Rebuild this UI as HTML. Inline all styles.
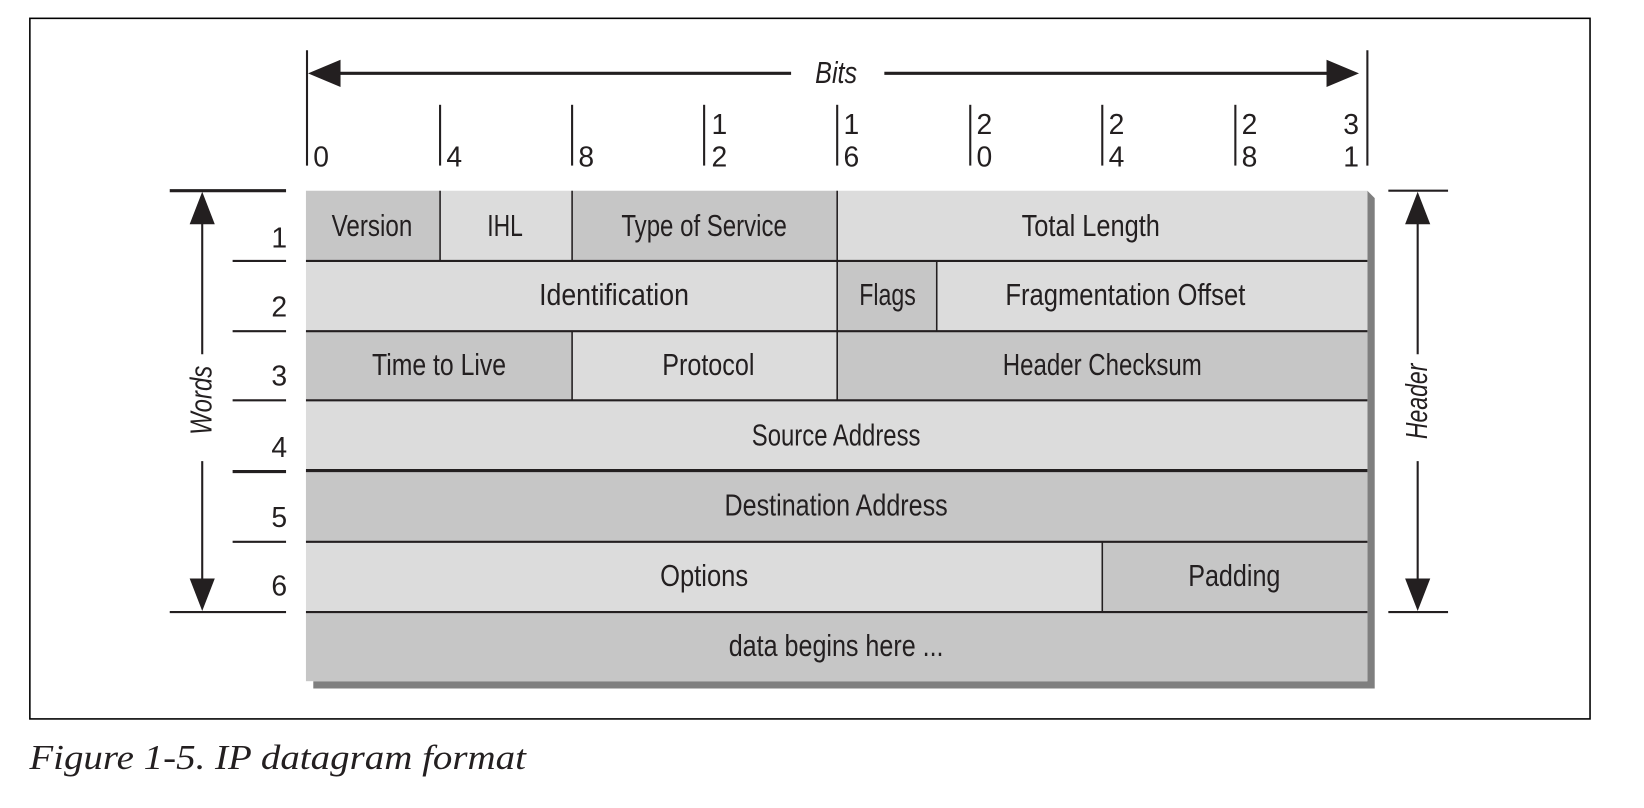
<!DOCTYPE html>
<html><head><meta charset="utf-8"><style>
html,body{margin:0;padding:0;background:#fff;}
svg{display:block;}
.t{font-family:"Liberation Sans Narrow","Liberation Sans",sans-serif;font-size:29px;fill:#231f20;text-anchor:middle;}
.n{font-family:"Liberation Sans Narrow","Liberation Sans",sans-serif;font-size:27px;fill:#231f20;}
</style></head><body>
<svg width="1644" height="808" viewBox="0 0 1569 771" preserveAspectRatio="none" xmlns="http://www.w3.org/2000/svg">
<rect x="0" y="0" width="1569" height="771" fill="#fff"/>
<rect x="28.5" y="17.5" width="1489" height="668.5" fill="none" stroke="#000" stroke-width="1.5"/>
<!-- Bits arrow -->
<line x1="293" y1="48" x2="293" y2="158" stroke="#231f20" stroke-width="2"/>
<line x1="1305" y1="48" x2="1305" y2="158" stroke="#231f20" stroke-width="2"/>
<line x1="310" y1="70" x2="755" y2="70" stroke="#231f20" stroke-width="3"/>
<line x1="844" y1="70" x2="1280" y2="70" stroke="#231f20" stroke-width="3"/>
<polygon points="294,70 325,57 325,83" fill="#231f20"/>
<polygon points="1297,70 1266,57 1266,83" fill="#231f20"/>
<text x="798" y="79" class="t" font-style="italic" textLength="40" lengthAdjust="spacingAndGlyphs">Bits</text>
<!-- ticks -->
<g stroke="#231f20" stroke-width="2">
<line x1="420" y1="100" x2="420" y2="158"/><line x1="546" y1="100" x2="546" y2="158"/>
<line x1="672" y1="100" x2="672" y2="158"/><line x1="799" y1="100" x2="799" y2="158"/>
<line x1="926" y1="100" x2="926" y2="158"/><line x1="1052" y1="100" x2="1052" y2="158"/>
<line x1="1179" y1="100" x2="1179" y2="158"/>
</g>
<g class="n">
<text x="299" y="159">0</text><text x="426" y="159">4</text><text x="552" y="159">8</text>
<text x="679" y="128">1</text><text x="679" y="159">2</text>
<text x="805" y="128">1</text><text x="805" y="159">6</text>
<text x="932" y="128">2</text><text x="932" y="159">0</text>
<text x="1058" y="128">2</text><text x="1058" y="159">4</text>
<text x="1185" y="128">2</text><text x="1185" y="159">8</text>
<text x="1282" y="128">3</text><text x="1282" y="159">1</text>
</g>
<!-- shadow -->
<polygon points="299,650 1305,650 1305,182 1312,189 1312,657 299,657" fill="#7f7f7f"/>
<!-- cells -->
<g stroke="none">
<rect x="292" y="182" width="128" height="67" fill="#c6c6c6"/>
<rect x="420" y="182" width="126" height="67" fill="#dcdcdc"/>
<rect x="546" y="182" width="253" height="67" fill="#c6c6c6"/>
<rect x="799" y="182" width="506" height="67" fill="#dcdcdc"/>
<rect x="292" y="249" width="507" height="67" fill="#dcdcdc"/>
<rect x="799" y="249" width="95" height="67" fill="#c6c6c6"/>
<rect x="894" y="249" width="411" height="67" fill="#dcdcdc"/>
<rect x="292" y="316" width="254" height="66" fill="#c6c6c6"/>
<rect x="546" y="316" width="253" height="66" fill="#dcdcdc"/>
<rect x="799" y="316" width="506" height="66" fill="#c6c6c6"/>
<rect x="292" y="382" width="1013" height="67" fill="#dcdcdc"/>
<rect x="292" y="449" width="1013" height="68" fill="#c6c6c6"/>
<rect x="292" y="517" width="760" height="67" fill="#dcdcdc"/>
<rect x="1052" y="517" width="253" height="67" fill="#c6c6c6"/>
<rect x="292" y="584" width="1013" height="66" fill="#c6c6c6"/>
</g>
<g stroke="#231f20" stroke-width="2">
<line x1="292" y1="249" x2="1305" y2="249"/><line x1="292" y1="316" x2="1305" y2="316"/>
<line x1="292" y1="382" x2="1305" y2="382"/><line x1="292" y1="449" x2="1305" y2="449" stroke-width="3"/>
<line x1="292" y1="517" x2="1305" y2="517"/><line x1="292" y1="584" x2="1305" y2="584"/>
<line x1="420" y1="182" x2="420" y2="249" stroke-width="1.5"/><line x1="546" y1="182" x2="546" y2="249" stroke-width="1.5"/>
<line x1="799" y1="182" x2="799" y2="249" stroke-width="1.5"/>
<line x1="799" y1="249" x2="799" y2="316" stroke-width="1.5"/><line x1="894" y1="249" x2="894" y2="316" stroke-width="1.5"/>
<line x1="546" y1="316" x2="546" y2="382" stroke-width="1.5"/><line x1="799" y1="316" x2="799" y2="382" stroke-width="1.5"/>
<line x1="1052" y1="517" x2="1052" y2="584" stroke-width="1.5"/>
</g>
<g class="t">
<text x="355" y="225" textLength="77" lengthAdjust="spacingAndGlyphs">Version</text>
<text x="482" y="225" textLength="34" lengthAdjust="spacingAndGlyphs">IHL</text>
<text x="672" y="225" textLength="158" lengthAdjust="spacingAndGlyphs">Type of Service</text>
<text x="1041" y="225" textLength="132" lengthAdjust="spacingAndGlyphs">Total Length</text>
<text x="586" y="291" textLength="143" lengthAdjust="spacingAndGlyphs">Identification</text>
<text x="847" y="291" textLength="54" lengthAdjust="spacingAndGlyphs">Flags</text>
<text x="1074" y="291" textLength="229" lengthAdjust="spacingAndGlyphs">Fragmentation Offset</text>
<text x="419" y="358" textLength="128" lengthAdjust="spacingAndGlyphs">Time to Live</text>
<text x="676" y="358" textLength="88" lengthAdjust="spacingAndGlyphs">Protocol</text>
<text x="1052" y="358" textLength="190" lengthAdjust="spacingAndGlyphs">Header Checksum</text>
<text x="798" y="425" textLength="161" lengthAdjust="spacingAndGlyphs">Source Address</text>
<text x="798" y="492" textLength="213" lengthAdjust="spacingAndGlyphs">Destination Address</text>
<text x="672" y="559" textLength="84" lengthAdjust="spacingAndGlyphs">Options</text>
<text x="1178" y="559" textLength="88" lengthAdjust="spacingAndGlyphs">Padding</text>
<text x="798" y="626" textLength="205" lengthAdjust="spacingAndGlyphs">data begins here ...</text>
</g>
<!-- left words -->
<g stroke="#231f20">
<line x1="162" y1="182" x2="273" y2="182" stroke-width="3"/>
<line x1="222" y1="249" x2="273" y2="249" stroke-width="2"/>
<line x1="222" y1="316" x2="273" y2="316" stroke-width="2"/>
<line x1="222" y1="382" x2="273" y2="382" stroke-width="2"/>
<line x1="222" y1="450" x2="273" y2="450" stroke-width="3"/>
<line x1="222" y1="517" x2="273" y2="517" stroke-width="2"/>
<line x1="162" y1="584" x2="273" y2="584" stroke-width="2"/>
<line x1="193" y1="205" x2="193" y2="338" stroke-width="2"/>
<line x1="193" y1="440" x2="193" y2="560" stroke-width="2"/>
<line x1="1325" y1="182" x2="1382" y2="182" stroke-width="2"/>
<line x1="1325" y1="584" x2="1382" y2="584" stroke-width="2"/>
<line x1="1353" y1="205" x2="1353" y2="338" stroke-width="2"/>
<line x1="1353" y1="440" x2="1353" y2="560" stroke-width="2"/>
</g>
<polygon points="193,183 181,214 205,214" fill="#231f20"/>
<polygon points="193,583 181,552 205,552" fill="#231f20"/>
<polygon points="1353,183 1341,214 1365,214" fill="#231f20"/>
<polygon points="1353,583 1341,552 1365,552" fill="#231f20"/>
<text class="t" font-style="italic" transform="translate(202,382) rotate(-90)" textLength="66" lengthAdjust="spacingAndGlyphs">Words</text>
<text class="t" font-style="italic" transform="translate(1362,383) rotate(-90)" textLength="72" lengthAdjust="spacingAndGlyphs">Header</text>
<g class="n" text-anchor="end">
<text x="274" y="236" text-anchor="end">1</text>
<text x="274" y="302" text-anchor="end">2</text>
<text x="274" y="368" text-anchor="end">3</text>
<text x="274" y="436" text-anchor="end">4</text>
<text x="274" y="503" text-anchor="end">5</text>
<text x="274" y="568" text-anchor="end">6</text>
</g>
<text x="28" y="734" font-family="Liberation Serif,serif" font-style="italic" font-size="33" fill="#231f20" textLength="474" lengthAdjust="spacingAndGlyphs">Figure 1-5. IP datagram format</text>
</svg>
</body></html>
